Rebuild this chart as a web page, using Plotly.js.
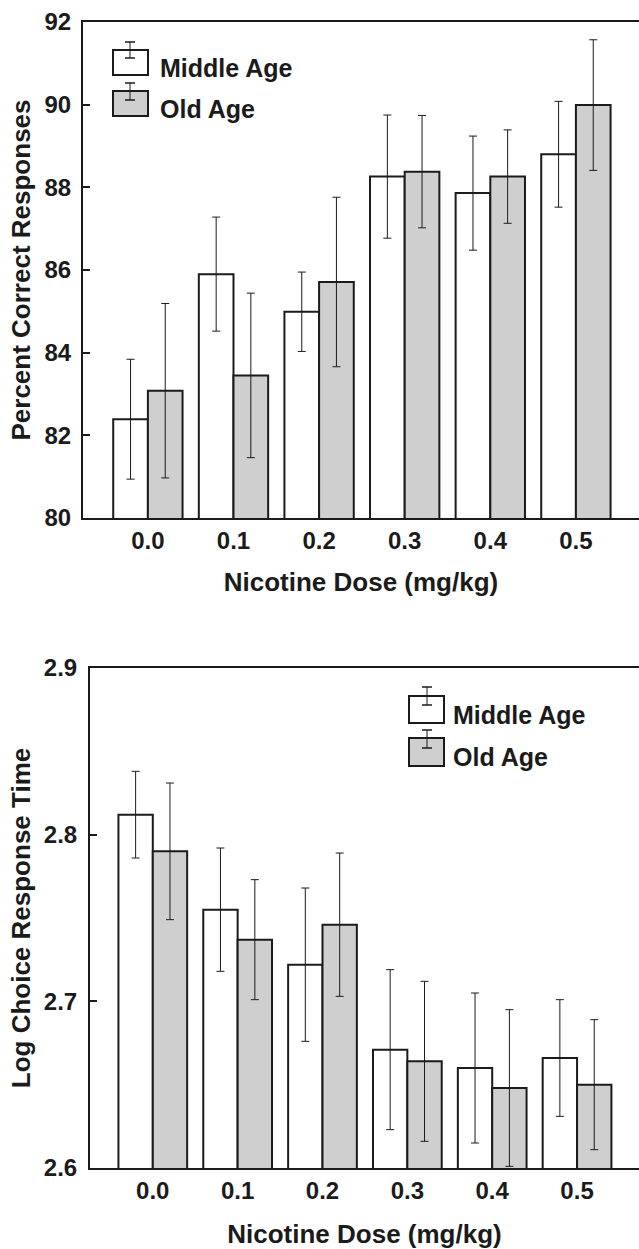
<!DOCTYPE html>
<html>
<head>
<meta charset="utf-8">
<script src="https://cdn.plot.ly/plotly-3.0.1.min.js"></script>
<style>
html,body{margin:0;padding:0;background:#fff;}
#chart{width:639px;height:1249px;}
</style>
</head>
<body>
<div id="chart"></div>
<script>
// ---- data ----
var doses = ["0.0", "0.1", "0.2", "0.3", "0.4", "0.5"];
var seriesNames = ["Middle Age", "Old Age"];

// Top panel: Percent Correct Responses
var pcMiddle = [82.39, 85.90, 84.99, 88.26, 87.86, 88.80];
var pcMiddleErr = [1.45, 1.38, 0.96, 1.49, 1.38, 1.28];
var pcOld = [83.08, 83.45, 85.71, 88.38, 88.26, 89.99];
var pcOldErr = [2.11, 1.99, 2.05, 1.36, 1.13, 1.58];

// Bottom panel: Log Choice Response Time
var rtMiddle = [2.812, 2.755, 2.722, 2.671, 2.660, 2.666];
var rtMiddleErr = [0.026, 0.037, 0.046, 0.048, 0.045, 0.035];
var rtOld = [2.790, 2.737, 2.746, 2.664, 2.648, 2.650];
var rtOldErr = [0.041, 0.036, 0.043, 0.048, 0.047, 0.039];

var xTitle = "Nicotine Dose (mg/kg)";
var yTitleTop = "Percent Correct Responses";
var yTitleBottom = "Log Choice Response Time";

// ---- styling ----
var W = 639, H = 1249;
var FONT = "Liberation Sans, Arial, Helvetica, sans-serif";
var INK = "#1b1b1b";
var GRAY = "#cfcfcf";
function px(x){ return x / W; }
function py(y){ return 1 - y / H; }
var xIdx = doses.map(function(d, i){ return i; });

function barTrace(vals, errs, name, fill, xa, ya){
  return {
    type: "bar", name: name, x: xIdx, y: vals,
    xaxis: xa, yaxis: ya,
    marker: {color: fill, line: {color: INK, width: 2}},
    error_y: {type: "data", array: errs, visible: true, color: INK, thickness: 1, width: 4},
    showlegend: false, hoverinfo: "skip"
  };
}

var data = [
  barTrace(pcMiddle, pcMiddleErr, seriesNames[0], "#ffffff", "x", "y"),
  barTrace(pcOld, pcOldErr, seriesNames[1], GRAY, "x", "y"),
  barTrace(rtMiddle, rtMiddleErr, seriesNames[0], "#ffffff", "x2", "y2"),
  barTrace(rtOld, rtOldErr, seriesNames[1], GRAY, "x2", "y2")
];

var tickFont = {family: FONT, size: 24, color: INK, weight: "bold"};
var titleFont = {family: FONT, size: 26, color: INK, weight: "bold"};
var legendFont = {family: FONT, size: 25, color: INK, weight: "bold"};

// custom legends (boxes with error-bar glyphs)
var shapes = [];
var annotations = [];
function legendItem(x0, x1, y0, y1, gx, c0, c1, fill, label, tx, ty){
  shapes.push({type: "rect", xref: "paper", yref: "paper",
    x0: px(x0), x1: px(x1), y0: py(y0), y1: py(y1),
    fillcolor: fill, line: {color: INK, width: 2}});
  shapes.push({type: "line", xref: "paper", yref: "paper",
    x0: px(gx), x1: px(gx), y0: py(c0), y1: py(c1), line: {color: INK, width: 1}});
  shapes.push({type: "line", xref: "paper", yref: "paper",
    x0: px(gx - 5), x1: px(gx + 5), y0: py(c0), y1: py(c0), line: {color: INK, width: 1.5}});
  shapes.push({type: "line", xref: "paper", yref: "paper",
    x0: px(gx - 5), x1: px(gx + 5), y0: py(c1), y1: py(c1), line: {color: INK, width: 1.5}});
  annotations.push({xref: "paper", yref: "paper", x: px(tx), y: py(ty),
    xanchor: "left", yanchor: "middle", showarrow: false, text: label, font: legendFont});
}
legendItem(113, 148, 50, 75, 130, 42, 58, "#ffffff", seriesNames[0], 158, 68);
legendItem(113, 148, 91, 116, 130, 83, 100, GRAY, seriesNames[1], 158, 109);
legendItem(409, 444, 696, 723, 427, 687, 705, "#ffffff", seriesNames[0], 451, 715);
legendItem(409, 444, 738, 766, 427, 730, 748, GRAY, seriesNames[1], 451, 757);

var layout = {
  width: W, height: H,
  margin: {l: 0, r: 0, t: 0, b: 0},
  paper_bgcolor: "#ffffff", plot_bgcolor: "#ffffff",
  barmode: "group", bargap: 0.19, bargroupgap: 0,
  showlegend: false,
  font: {family: FONT, color: INK},
  xaxis: {
    domain: [px(83), 1], anchor: "y", range: [-0.758, 5.737],
    tickvals: xIdx, ticktext: doses, ticks: "", tickfont: tickFont,
    showline: true, linecolor: INK, linewidth: 2, mirror: true,
    showgrid: false, zeroline: false, fixedrange: true,
    title: {text: xTitle, font: titleFont, standoff: 20}
  },
  yaxis: {
    domain: [py(518), py(22)], anchor: "x", range: [80, 92], dtick: 2,
    ticks: "inside", ticklen: 7, tickwidth: 2, tickcolor: INK, tickfont: tickFont,
    ticklabelstandoff: 5,
    showline: true, linecolor: INK, linewidth: 2,
    showgrid: false, zeroline: false, fixedrange: true,
    title: {text: yTitleTop, font: titleFont, standoff: 6}
  },
  xaxis2: {
    domain: [px(90), 1], anchor: "y2", range: [-0.74, 5.73],
    tickvals: xIdx, ticktext: doses, ticks: "", tickfont: tickFont,
    showline: true, linecolor: INK, linewidth: 2, mirror: true,
    showgrid: false, zeroline: false, fixedrange: true,
    title: {text: xTitle, font: titleFont, standoff: 24}
  },
  yaxis2: {
    domain: [py(1168), py(668)], anchor: "x2", range: [2.6, 2.9], dtick: 0.1, tickformat: ".1f",
    ticks: "inside", ticklen: 7, tickwidth: 2, tickcolor: INK, tickfont: tickFont,
    ticklabelstandoff: 6,
    showline: true, linecolor: INK, linewidth: 2,
    showgrid: false, zeroline: false, fixedrange: true,
    title: {text: yTitleBottom, font: titleFont, standoff: 6}
  },
  shapes: shapes,
  annotations: annotations
};

Plotly.newPlot("chart", data, layout, {staticPlot: true, displayModeBar: false});
</script>
</body>
</html>
